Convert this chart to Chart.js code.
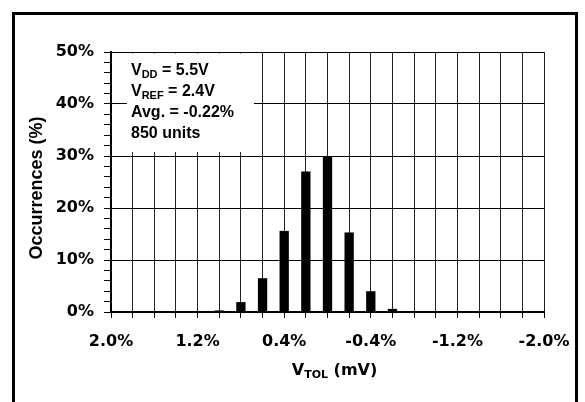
<!DOCTYPE html>
<html><head><meta charset="utf-8">
<script src="https://cdn.jsdelivr.net/npm/chart.js@4.4.1/dist/chart.umd.min.js"></script>
<style>html,body{margin:0;padding:0;background:#fff}#wrap{width:585px;height:402px;position:relative}</style>
</head><body><div id="wrap"><canvas id="c" width="585" height="402"></canvas></div>
<script>
// ---- data ----
const categories = ['2.0%','1.8%','1.6%','1.4%','1.2%','1.0%','0.8%','0.6%','0.4%','0.2%','0.0%','-0.2%','-0.4%','-0.6%','-0.8%','-1.0%','-1.2%','-1.4%','-1.6%','-1.8%','-2.0%'];
const occurrences = [0,0,0,0,0.2,0.3,1.9,6.5,15.6,27.0,29.9,15.3,4.0,0.6,0,0,0,0,0,0,0];
const xTickLabels = ['2.0%','1.2%','0.4%','-0.4%','-1.2%','-2.0%'];
const yMajorTicks = [0,10,20,30,40,50];
const infoLines = [
  [['V',''],['DD','sub'],[' = 5.5V','']],
  [['V',''],['REF','sub'],[' = 2.4V','']],
  [['Avg. = -0.22%','']],
  [['850 units','']]
];
const xTitleParts = [['V',''],['TOL','sub'],[' (mV)','']];
const yTitle = 'Occurrences (%)';

const LIB = '"Liberation Sans", Arial, sans-serif';
const DJV = '"DejaVu Sans", sans-serif';

function drawRich(ctx, parts, x, y, family, size, subSize, subDrop) {
  let cx = x;
  for (const [t, kind] of parts) {
    const s = kind === 'sub' ? subSize : size;
    ctx.font = 'bold ' + s + 'px ' + family;
    ctx.fillText(t, cx, kind === 'sub' ? y + subDrop : y);
    cx += ctx.measureText(t).width;
  }
}
function richWidth(ctx, parts, family, size, subSize) {
  let w = 0;
  for (const [t, kind] of parts) {
    ctx.font = 'bold ' + (kind === 'sub' ? subSize : size) + 'px ' + family;
    w += ctx.measureText(t).width;
  }
  return w;
}

const decor = {
  id: 'decor',
  beforeDraw(chart) {
    const ctx = chart.ctx;
    ctx.save();
    ctx.fillStyle = '#fff';
    ctx.fillRect(0, 0, chart.width, chart.height);
    ctx.restore();
  },
  beforeDatasetsDraw(chart) {
    const ctx = chart.ctx, ca = chart.chartArea;
    ctx.save();
    ctx.fillStyle = '#fff';
    ctx.fillRect(ca.left + 16, ca.top + 1.5, 127, 98.5);
    ctx.restore();
  },
  afterDraw(chart) {
    const ctx = chart.ctx, ca = chart.chartArea;
    ctx.save();
    ctx.fillStyle = '#000';
    ctx.textBaseline = 'alphabetic';
    ctx.textAlign = 'left';
    infoLines.forEach((parts, i) => {
      drawRich(ctx, parts, ca.left + 20, ca.top + 23 + i * 20.9, LIB, 16, 11, 3);
    });
    const w = richWidth(ctx, xTitleParts, DJV, 16, 11);
    const cx = (ca.left + ca.right) / 2 + 7;
    drawRich(ctx, xTitleParts, cx - w / 2, ca.bottom + 63, DJV, 16, 11, 3);
    ctx.translate(37, (ca.top + ca.bottom) / 2 + 6);
    ctx.rotate(-Math.PI / 2);
    ctx.textAlign = 'center';
    ctx.textBaseline = 'middle';
    ctx.font = 'bold 18px ' + LIB;
    ctx.fillText(yTitle, 0, 0);
    ctx.restore();
    ctx.save();
    ctx.strokeStyle = '#000';
    ctx.lineWidth = 3;
    ctx.beginPath();
    ctx.moveTo(13.5, chart.height);
    ctx.lineTo(13.5, 13.5);
    ctx.lineTo(576.5, 13.5);
    ctx.lineTo(576.5, chart.height);
    ctx.stroke();
    ctx.restore();
  }
};

new Chart(document.getElementById('c'), {
  type: 'bar',
  data: {
    labels: categories,
    datasets: [{
      data: occurrences,
      backgroundColor: '#000',
      borderWidth: 0,
      barPercentage: 0.43,
      categoryPercentage: 1.0
    }]
  },
  options: {
    responsive: false,
    animation: false,
    devicePixelRatio: 1,
    layout: { padding: { top: 52, right: 41, left: 0, bottom: 0 } },
    plugins: { legend: { display: false }, tooltip: { enabled: false } },
    scales: {
      x: {
        type: 'category',
        offset: false,
        grid: { offset: false, color: '#222', lineWidth: 1, tickLength: 6, tickColor: '#000' },
        border: { display: true, color: '#000', width: 2 },
        ticks: {
          autoSkip: false, maxRotation: 0, minRotation: 0, padding: 14, color: '#000',
          font: { family: DJV, weight: 'bold', size: 16 },
          callback: (v, i) => xTickLabels.includes(categories[i]) ? categories[i] : ''
        },
        afterFit: s => { s.height = 90; }
      },
      y: {
        min: 0, max: 50,
        grid: {
          color: c => (c.tick && yMajorTicks.includes(Math.round(c.tick.value))) ? '#000' : 'rgba(0,0,0,0)',
          tickColor: '#000', tickLength: 7, lineWidth: 1
        },
        border: { display: true, color: '#000', width: 2 },
        ticks: {
          autoSkip: false, stepSize: 2, padding: 10, color: '#000',
          font: { family: DJV, weight: 'bold', size: 16 },
          callback: v => yMajorTicks.includes(Math.round(v)) && Math.abs(v - Math.round(v)) < 1e-6 ? Math.round(v) + '%' : ''
        },
        afterFit: s => { s.width = 111; }
      }
    }
  },
  plugins: [decor]
});
</script></body></html>
